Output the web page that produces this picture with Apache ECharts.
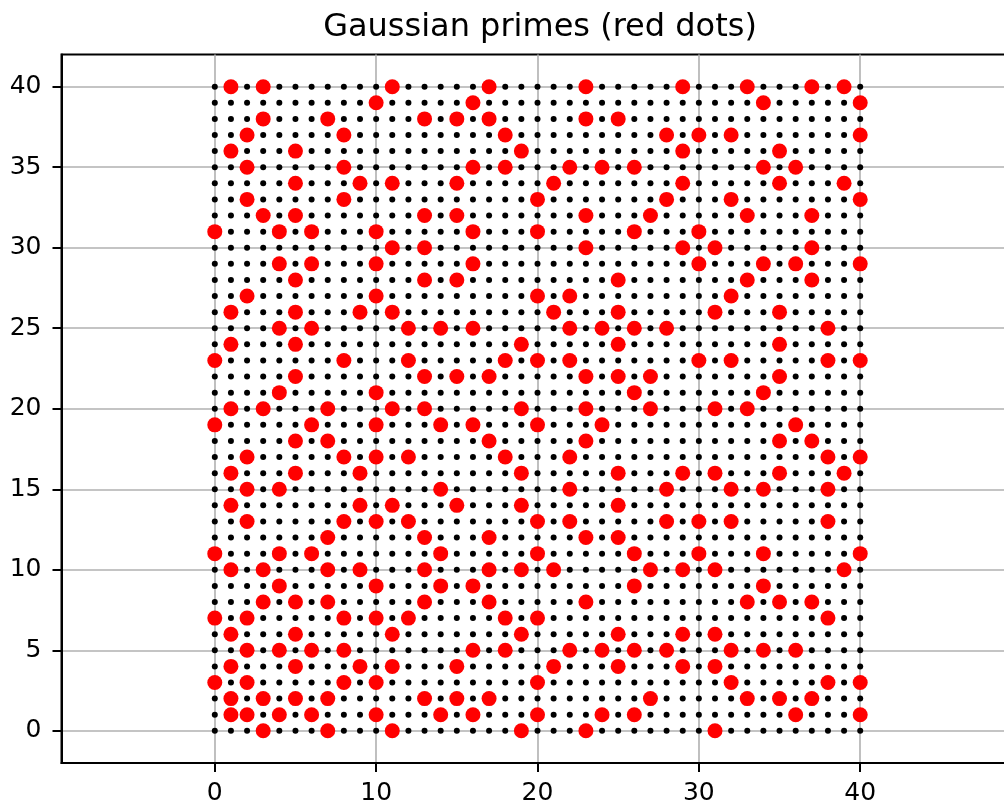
<!DOCTYPE html>
<html>
	<head>
		<meta charset="UTF-8">
		<title>Gaussian primes</title>
		<script src="https://cdn.jsdelivr.net/npm/echarts@6/dist/echarts.min.js" type="text/javascript"></script>
		<style>
			html, body { margin: 0; padding: 0; background: #fff; }
			#chart { width: 1004px; height: 804px; }
		</style>
	</head>
	<body>
		<div id="chart"></div>
		<script type="text/javascript">
			// lattice of points (black dots)
			var gridX = [0,1,2,3,4,5,6,7,8,9,10,11,12,13,14,15,16,17,18,19,20,21,22,23,24,25,26,27,28,29,30,31,32,33,34,35,36,37,38,39,40];
			var gridY = [0,1,2,3,4,5,6,7,8,9,10,11,12,13,14,15,16,17,18,19,20,21,22,23,24,25,26,27,28,29,30,31,32,33,34,35,36,37,38,39,40];

			// red dots: x positions of each row, row index = y
			var primeRows = [
				[3,7,11,19,23,31],
				[1,2,4,6,10,14,16,20,24,26,36,40],
				[1,3,5,7,13,15,17,27,33,35,37],
				[0,2,8,10,20,32,38,40],
				[1,5,9,11,15,21,25,29,31],
				[2,4,6,8,16,18,22,24,26,28,32,34,36],
				[1,5,11,19,25,29,31],
				[0,2,8,10,12,18,20,38],
				[3,5,7,13,17,23,33,35,37],
				[4,10,14,16,26,34],
				[1,3,7,9,13,17,19,21,27,29,31,39],
				[0,4,6,14,20,26,30,34,40],
				[7,13,17,23,25],
				[2,8,10,12,20,22,28,30,32,38],
				[1,9,11,15,19,25],
				[2,4,14,22,28,32,34,38],
				[1,5,9,19,25,29,31,35,39],
				[2,8,10,12,18,22,38,40],
				[5,7,17,23,35,37],
				[0,6,10,14,16,20,24,36],
				[1,3,7,11,13,19,23,27,31,33],
				[4,10,26,34],
				[5,13,15,17,23,25,27,35],
				[0,8,12,18,20,22,30,32,38,40],
				[1,5,19,25,35],
				[4,6,12,14,16,22,24,26,28,38],
				[1,5,9,11,21,25,31,35],
				[2,10,20,22,32],
				[5,13,15,25,33,37],
				[4,6,10,16,30,34,36,40],
				[11,13,23,29,31,37],
				[0,4,6,10,16,20,26,30],
				[3,5,13,15,23,27,33,37],
				[2,8,20,28,32,40],
				[5,9,11,15,21,29,35,39],
				[2,8,16,18,22,24,26,34,36],
				[1,5,19,29,35],
				[2,8,18,28,30,32,40],
				[3,7,13,15,17,23,25],
				[10,16,34,40],
				[1,3,11,17,23,29,33,37,39]
			];

			var xTicks = [0, 10, 20, 30, 40];
			var yTicks = [0, 5, 10, 15, 20, 25, 30, 35, 40];

			var lattice = [];
			for (var i = 0; i < gridY.length; i++) {
				for (var j = 0; j < gridX.length; j++) {
					lattice.push([gridX[j], gridY[i]]);
				}
			}
			var primes = [];
			for (var y = 0; y < primeRows.length; y++) {
				for (var k = 0; k < primeRows[y].length; k++) {
					primes.push([primeRows[y][k], y]);
				}
			}

			var font = 'DejaVu Sans';
			var myChart = echarts.init(document.getElementById('chart'));
			var option = {
				animation: false,
				backgroundColor: '#fff',
				title: {
					text: 'Gaussian primes (red dots)',
					left: 535,
					top: 7,
					textAlign: 'center',
					textStyle: { fontFamily: font, fontSize: 32, fontWeight: 'normal', color: '#000' }
				},
				grid: {
					left: 61.5,
					top: 54.5,
					width: 952,
					height: 708.5,
					containLabel: false,
					outerBoundsMode: 'none',
					show: true,
					borderColor: '#000',
					borderWidth: 2
				},
				xAxis: {
					type: 'value',
					min: -9.5,
					max: 49.5,
					minInterval: 10,
					maxInterval: 10,
					axisLine: { show: true, onZero: false, lineStyle: { color: '#000', width: 2 } },
					axisTick: { show: true, inside: false, length: 9, customValues: xTicks, lineStyle: { color: '#000', width: 2 } },
					axisLabel: { customValues: xTicks, margin: 18, fontFamily: font, fontSize: 25, color: '#000' },
					splitLine: { show: true, lineStyle: { color: '#b0b0b0', width: 1.6 } }
				},
				yAxis: {
					type: 'value',
					min: -2,
					max: 42,
					minInterval: 5,
					maxInterval: 5,
					axisLine: { show: true, onZero: false, lineStyle: { color: '#000', width: 2 } },
					axisTick: { show: true, inside: false, length: 9, customValues: yTicks, lineStyle: { color: '#000', width: 2 } },
					axisLabel: { customValues: yTicks, margin: 20, fontFamily: font, fontSize: 25, color: '#000' },
					splitLine: { show: true, lineStyle: { color: '#b0b0b0', width: 1.6 } }
				},
				series: [
					{
						type: 'scatter',
						data: lattice,
						symbolSize: 6,
						itemStyle: { color: '#000', opacity: 1 },
						silent: true
					},
					{
						type: 'scatter',
						data: primes,
						symbolSize: 15,
						itemStyle: { color: '#ff0000', opacity: 1 },
						silent: true
					}
				]
			};
			myChart.setOption(option);
		</script>
	</body>
</html>
